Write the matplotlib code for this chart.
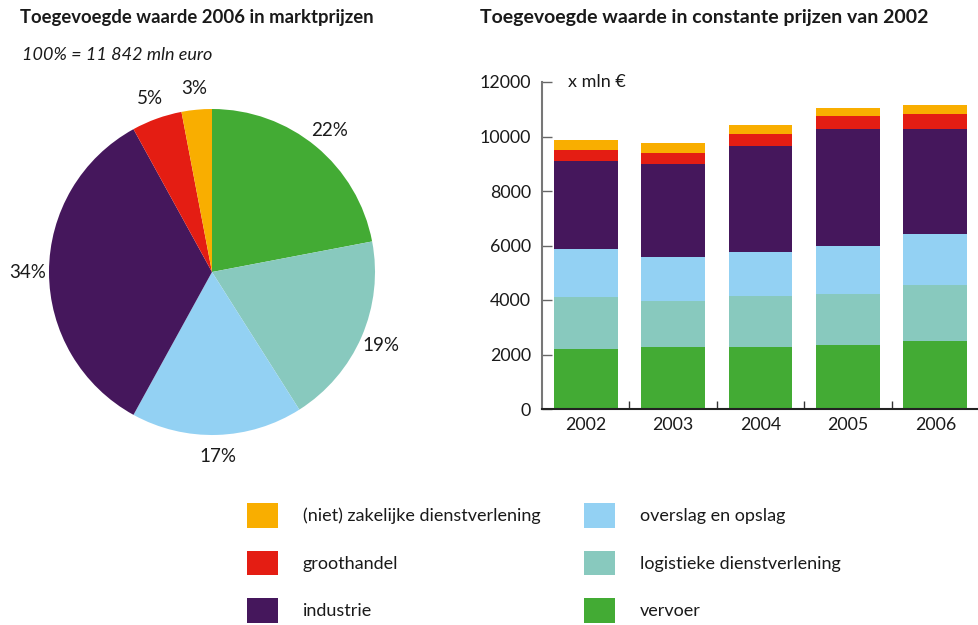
import numpy as np
import matplotlib
matplotlib.use("Agg")
import matplotlib.pyplot as plt
from matplotlib.patches import Patch

plt.rcParams['font.family'] = ['Lato', 'DejaVu Sans']

# Data
categories = ['(niet) zakelijke dienstverlening', 'groothandel', 'industrie',
              'overslag en opslag', 'logistieke dienstverlening', 'vervoer']
colors = {
    '(niet) zakelijke dienstverlening': '#F9AE00',
    'groothandel': '#E41D13',
    'industrie': '#45175C',
    'overslag en opslag': '#93D1F3',
    'logistieke dienstverlening': '#88C9BE',
    'vervoer': '#43AB34',
}

# pie: 2006 market prices, clockwise from 12 o'clock
pie_labels = ['vervoer', 'logistieke dienstverlening', 'overslag en opslag',
              'industrie', 'groothandel', '(niet) zakelijke dienstverlening']
pie_pct = [22, 19, 17, 34, 5, 3]

# bars: constant prices of 2002 (x mln euro)
years = ['2002', '2003', '2004', '2005', '2006']
vervoer = [2200, 2275, 2275, 2350, 2495]
logistiek = [1910, 1690, 1870, 1870, 2055]
overslag = [1760, 1615, 1615, 1760, 1870]
industrie = [3230, 3410, 3890, 4295, 3855]
groothandel = [400, 405, 440, 475, 550]
zakelijk = [370, 365, 330, 295, 330]
stack = [('vervoer', vervoer), ('logistieke dienstverlening', logistiek),
         ('overslag en opslag', overslag), ('industrie', industrie),
         ('groothandel', groothandel), ('(niet) zakelijke dienstverlening', zakelijk)]

txt = '#1a1a1a'
W, H = 979, 625
fig = plt.figure(figsize=(W / 100, H / 100), dpi=100)

# ---- pie ----
cx, cy, r = 212, 272, 163
lim = 1.3
half = r * lim
ax1 = fig.add_axes([(cx - half) / W, (H - cy - half) / H, 2 * half / W, 2 * half / H])
ax1.pie(pie_pct, colors=[colors[k] for k in pie_labels], startangle=90,
        counterclock=False, autopct=lambda p: f'{p:.0f}%', pctdistance=1.13,
        textprops=dict(fontsize=13.5, color=txt))
ax1.set_xlim(-lim, lim)
ax1.set_ylim(-lim, lim)
ax1.set_aspect('equal')

fig.text(20 / W, 1 - 18 / H, 'Toegevoegde waarde 2006 in marktprijzen',
         fontsize=13.3, fontweight='bold', color=txt, va='center')
fig.text(22 / W, 1 - 55 / H, '100% = 11 842 mln euro',
         fontsize=13, style='italic', color=txt, va='center')

# ---- stacked bars ----
x0, x1, y0, y1 = 542, 979, 409, 82
ax2 = fig.add_axes([x0 / W, (H - y0) / H, (x1 - x0) / W, (y0 - y1) / H])
x = np.arange(len(years))
bottom = np.zeros(len(years))
for name, vals in stack:
    ax2.bar(x, vals, width=0.73, bottom=bottom, color=colors[name], linewidth=0)
    bottom += np.array(vals)
ax2.set_xlim(-0.5, len(years) - 0.5)
ax2.set_ylim(0, 12000)
ax2.set_yticks(range(0, 12001, 2000))
ax2.set_yticklabels([str(v) for v in range(0, 12001, 2000)])
ax2.tick_params(axis='y', direction='in', length=7, width=1, color='#666',
                labelsize=12.8, labelcolor=txt, pad=8)
ax2.set_xticks(x)
ax2.set_xticklabels(years)
ax2.tick_params(axis='x', length=0, labelsize=12.8, labelcolor=txt, pad=6)
# separator ticks between categories
ax2.set_xticks(x[:-1] + 0.5, minor=True)
ax2.tick_params(axis='x', which='minor', direction='in', length=6, width=1, color='#333')
for s in ['top', 'right']:
    ax2.spines[s].set_visible(False)
ax2.spines['left'].set_color('#777')
ax2.spines['left'].set_linewidth(1.5)
ax2.spines['bottom'].set_color('#222')
ax2.spines['bottom'].set_linewidth(1.5)
ax2.text(0.06, 1.0, 'x mln €', transform=ax2.transAxes, fontsize=13,
         color=txt, va='center', ha='left')

fig.text(480 / W, 1 - 18 / H, 'Toegevoegde waarde in constante prijzen van 2002',
         fontsize=14, fontweight='bold', color=txt, va='center')

# ---- legend ----
handles = [Patch(facecolor=colors[c], edgecolor='none') for c in categories]
leg_kw = dict(frameon=False, fontsize=13, handlelength=1.7, handleheight=1.75,
              handletextpad=1.4, labelspacing=1.25, borderpad=0, borderaxespad=0,
              labelcolor=txt)
fig.legend(handles[:3], categories[:3], loc='upper left',
           bbox_to_anchor=(247 / W, 1 - 503 / H), **leg_kw)
fig.legend(handles[3:], categories[3:], loc='upper left',
           bbox_to_anchor=(584 / W, 1 - 503 / H), **leg_kw)

fig.savefig('out.png', dpi=100)
